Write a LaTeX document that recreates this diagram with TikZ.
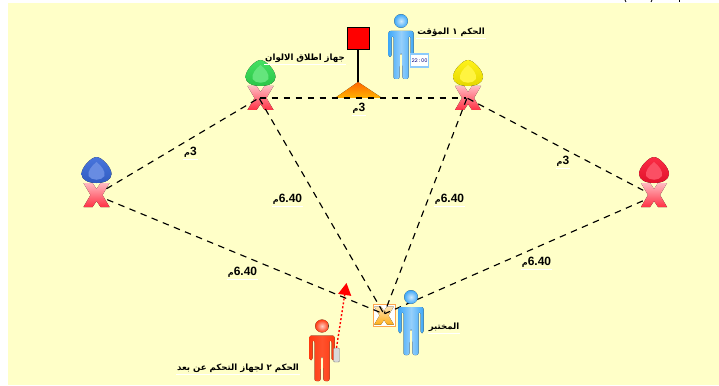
\documentclass[tikz,border=0pt]{standalone}
\usepackage{fontspec}
\setmainfont{Liberation Sans}
\newfontfamily\arabicfont[Script=Arabic]{DejaVu Sans}
\TeXXeTstate=1
\usetikzlibrary{arrows.meta}
\definecolor{pagebg}{HTML}{FFFFC8}
\definecolor{conebl}{HTML}{3566D8}
\definecolor{conegr}{HTML}{30DC50}
\definecolor{coneye}{HTML}{FFF000}
\definecolor{conere}{HTML}{FA1430}
\definecolor{crossre}{HTML}{FF1A30}
\definecolor{manbl}{HTML}{3FA8F8}
\definecolor{manre}{HTML}{FF3A10}
\newcommand{\arlabel}[1]{{\arabicfont\bfseries\beginR #1\endR}}
\newcommand{\distlabel}[1]{{\bfseries\beginR\beginL #1\endL{\arabicfont\fontsize{8}{9}\selectfont م}\endR}}
\tikzset{
	hub/.style={circle, inner sep=0pt, minimum size=#1},
	dashline/.style={line width=1.15pt, dash pattern=on 6.5pt off 5.5pt},
	distlbl/.style={font=\fontsize{12}{14}\selectfont, inner sep=1pt, minimum height=14pt},
	arlbl/.style={font=\fontsize{8.6}{10}\selectfont, inner sep=1pt, minimum height=13pt},
	pics/cross/.style={code={
		\fill[top color=#1!30!white, middle color=#1, bottom color=#1!90!white]
			(-13,-12) -- (-4,-12) -- (0,-6) -- (4,-12) -- (13,-12) -- (6,0) -- (13,12)
			-- (4,12) -- (0,6) -- (-4,12) -- (-13,12) -- (-6,0) -- cycle;
	}},
	pics/cone/.style={code={
		\fill[top color=#1!90!white, bottom color=#1!90!black]
			(0,-38) .. controls (5,-38) and (15,-28) .. (15,-21)
			.. controls (15,-15) and (8,-12) .. (0,-12)
			.. controls (-8,-12) and (-15,-15) .. (-15,-21)
			.. controls (-15,-28) and (-5,-38) .. (0,-38) -- cycle;
		\fill[#1!75!white] (0,-33) .. controls (5,-29) and (9,-24) .. (8,-19)
			.. controls (5,-14) and (-5,-14) .. (-8,-19) .. controls (-9,-24) and (-5,-29) .. (0,-33) -- cycle;
		\pic {cross=crossre};
	}},
	pics/man/.style 2 args={code={
		\fill[inner color=#1!25!white, outer color=#1] (0,0) circle (6.8);
		\fill[left color=#1, right color=#1, middle color=#1!#2!white, rounded corners=2pt]
			(-12.5,10) -- (12.5,10) -- (12.5,36) -- (9.5,36) -- (9.5,15) -- (7.5,15) -- (7.5,58)
			-- (1.5,58) -- (1,32) -- (-1,32) -- (-1.5,58) -- (-7.5,58) -- (-7.5,15) -- (-9.5,15)
			-- (-9.5,36) -- (-12.5,36) -- cycle;
	}}
}
\begin{document}
\begin{tikzpicture}[x=1pt, y=-1pt]
	\useasboundingbox (0,0) rectangle (719,385);
	\fill[pagebg] (8,3) rectangle (719,385);
	% stubs of cut off text
	\draw[line width=.8pt] (625,0) -- (626,2);
	\draw[line width=.8pt] (652,0) -- (651,2);
	\draw[line width=.8pt] (679,0) -- (679,2);

	\node[hub=24pt] (blue) at (96,195) {};
	\node[hub=1pt] (green) at (259,98) {};
	\node[hub=1pt] (yellow) at (467,98) {};
	\node[hub=24pt] (red) at (654,196) {};
	\pic at (96.5,195) {cone=conebl};
	\pic at (260.5,98) {cone=conegr};
	\pic at (468,98) {cone=coneye};
	\pic at (654,195) {cone=conere};

	% flag
	\draw[line width=2pt] (358,49) -- (358,83);
	\node[draw=black, line width=1pt, fill=red, minimum size=22pt, inner sep=0pt] (flag) at (358.5,38.5) {};
	\fill[top color=orange!80!red, bottom color=orange!60!yellow] (358,82) -- (335,98) -- (382,98) -- cycle;

	% tester box
	\node[draw=orange!70, line width=1pt, fill=white, minimum size=22pt, inner sep=0pt] (box) at (384,315.5) {};
	\pic[scale=.75] at (384,315.5) {cross=orange!70!yellow};
	\node[hub=1pt] (mid) at (384,314) {};

	\draw[dashline] (blue) -- (green);
	\draw[dashline] (green) -- (yellow);
	\draw[dashline] (yellow) -- (red);
	\draw[dashline] (blue) -- (mid);
	\draw[dashline] (green) -- (mid);
	\draw[dashline] (yellow) -- (mid);
	\draw[dashline] (red) -- (mid);

	\pic at (401,21) {man={manbl}{55}};
	\pic at (411,297) {man={manbl}{55}};
	\pic[yscale=.95] at (322,326) {man={manre}{88}};

	% timer and remote
	\node[draw=manbl!60, fill=white, line width=1.5pt, inner sep=1pt, minimum width=17pt, minimum height=13pt,
		font=\ttfamily\fontsize{6}{6}\selectfont, text=blue!50!black] (timer) at (419.5,60.5) {22:00};
	\node[draw=gray, fill=gray!30, rounded corners=1pt, inner sep=0pt, minimum width=6pt, minimum height=14pt] (remote) at (336.5,355) {};
	\coordinate (aim) at (346.5,283);
	\draw[red, line width=1.4pt, dash pattern=on 2pt off 2pt, -{Triangle[length=12pt, width=13pt]}] (remote.north) -- (aim);

	% labels
	\node[distlbl] (d1) at (190.5,152) {\distlabel{3}};
	\node[distlbl] (d2) at (359,108) {\distlabel{3}};
	\node[distlbl] (d3) at (563,161) {\distlabel{3}};
	\node[distlbl] (d4) at (242.5,272) {\distlabel{6.40}};
	\node[distlbl] (d5) at (287.5,199) {\distlabel{6.40}};
	\node[distlbl] (d6) at (449.5,199) {\distlabel{6.40}};
	\node[distlbl] (d7) at (536.5,262) {\distlabel{6.40}};
	\node[arlbl] (n1) at (451,32) {\arlabel{الحكم ١ المؤقت}};
	\node[arlbl] (n2) at (305,58) {\arlabel{جهاز اطلاق الالوان}};
	\node[arlbl] (n3) at (444,327) {\arlabel{المختبر}};
	\node[arlbl] (n4) at (238,368) {\arlabel{الحكم ٢ لجهاز التحكم عن بعد}};
	\foreach \n in {d1,d2,d3,d4,d5,d6,d7,n1,n2,n3,n4}
		\draw[white, line width=.8pt] (\n.south west) -- (\n.south east);
\end{tikzpicture}
\end{document}
